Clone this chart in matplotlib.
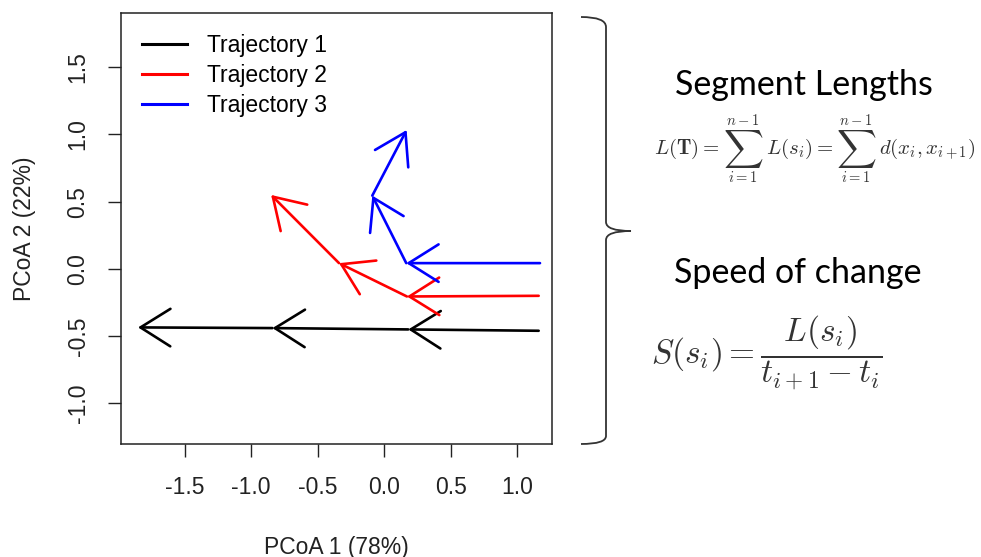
import matplotlib
matplotlib.use("Agg")
import matplotlib.pyplot as plt
from matplotlib.lines import Line2D
from matplotlib.path import Path
from matplotlib.patches import PathPatch
from matplotlib.offsetbox import TextArea, HPacker, VPacker, AnnotationBbox

# trajectory coordinates (PCoA space)
traj1_x = [1.16, 0.18, -0.84, -1.85]
traj1_y = [-0.46, -0.45, -0.44, -0.435]
traj2_x = [1.16, 0.17, -0.34, -0.85]
traj2_y = [-0.20, -0.205, 0.043, 0.55]
traj3_x = [1.17, 0.165, -0.09, 0.168]
traj3_y = [0.043, 0.043, 0.545, 1.033]

labels = ["Trajectory 1", "Trajectory 2", "Trajectory 3"]
colors = ["black", "red", "blue"]
xticks = [-1.5, -1.0, -0.5, 0.0, 0.5, 1.0]
yticks = [-1.0, -0.5, 0.0, 0.5, 1.0, 1.5]

W, H = 981, 557
plt.rcParams['font.family'] = ['Liberation Sans', 'DejaVu Sans']
plt.rcParams['mathtext.fontset'] = 'cm'

fig = plt.figure(figsize=(W / 100, H / 100), dpi=100)
ax = fig.add_axes([120.7 / W, 1 - 444 / H, (552 - 120.7) / W, (444 - 12.6) / H])

trajs = [(traj1_x, traj1_y), (traj2_x, traj2_y), (traj3_x, traj3_y)]
for (xs, ys), col in zip(trajs, colors):
    for i in range(len(xs) - 1):
        ax.annotate("", xy=(xs[i + 1], ys[i + 1]), xytext=(xs[i], ys[i]),
                    arrowprops=dict(arrowstyle="->,head_length=2.15,head_width=1.35",
                                    color=col, lw=1.9, shrinkA=0, shrinkB=0))

ax.set_xlim(-1.98, 1.26)
ax.set_ylim(-1.302, 1.906)
ax.set_xticks(xticks)
ax.set_yticks(yticks)
ax.set_xticklabels([f"{v:.1f}" for v in xticks])
ax.set_yticklabels([f"{v:.1f}" for v in yticks], rotation=90, va="center")
ax.tick_params(direction="out", length=9.4, width=1.0, labelsize=16.5, colors="#222222")
ax.tick_params(axis="x", pad=14)
ax.tick_params(axis="y", pad=13)
for s in ax.spines.values():
    s.set_linewidth(1.1)
    s.set_color("#222222")
ax.set_xlabel("PCoA 1 (78%)", fontsize=16.5, labelpad=26, color="#222222")
ax.set_ylabel("PCoA 2 (22%)", fontsize=16.5, labelpad=22, color="#222222")

handles = [Line2D([], [], color=c, lw=2.2) for c in colors]
ax.legend(handles, labels, loc="upper left", frameon=False, fontsize=16.5,
          handlelength=1.95, handletextpad=0.85, labelspacing=0.29,
          borderaxespad=0.5, borderpad=0.45)

# curly brace on the right
def px(x, y):
    return (x / W, 1 - y / H)

verts = [px(581, 17), px(606, 17), px(606, 27),
         px(606, 222),
         px(606, 231), px(631, 231),
         px(606, 231), px(606, 240),
         px(606, 436),
         px(606, 444), px(581, 444)]
codes = [Path.MOVETO, Path.CURVE3, Path.CURVE3,
         Path.LINETO,
         Path.CURVE3, Path.CURVE3,
         Path.CURVE3, Path.CURVE3,
         Path.LINETO,
         Path.CURVE3, Path.CURVE3]
brace = PathPatch(Path(verts, codes), transform=fig.transFigure, fill=False,
                  lw=1.3, edgecolor="#333333")
fig.patches.append(brace)

fc = "#333333"


def ta(s, size):
    return TextArea(s, textprops=dict(fontsize=size, color=fc))


def big_sum():
    return VPacker(children=[ta(r"$n-1$", 10.5), ta(r"$\sum$", 20), ta(r"$i=1$", 10.5)],
                   align="center", pad=0, sep=0)


fig.text(804 / W, 1 - 95 / H, "Segment Lengths", family=["Lato", "DejaVu Sans"],
         fontsize=24.5, ha="center", va="baseline", color="black")
row = HPacker(children=[ta(r"$L(\mathbf{T})=$", 15), big_sum(), ta(r"$L(s_i)=$", 15),
                        big_sum(), ta(r"$d(x_i,x_{i+1})$", 15)],
              align="center", pad=0, sep=2)
fig.add_artist(AnnotationBbox(row, px(815, 149), xycoords="figure fraction",
                              frameon=False, pad=0, box_alignment=(0.5, 0.5)))

fig.text(797.5 / W, 1 - 283 / H, "Speed of change", family=["Lato", "DejaVu Sans"],
         fontsize=24.5, ha="center", va="baseline", color="black")
fig.text(767 / W, 1 - 352 / H, r"$S(s_i)=\dfrac{L(s_i)}{t_{i+1}-t_i}$",
         fontsize=24, ha="center", va="center", color=fc)

fig.savefig("out.png", dpi=100)
